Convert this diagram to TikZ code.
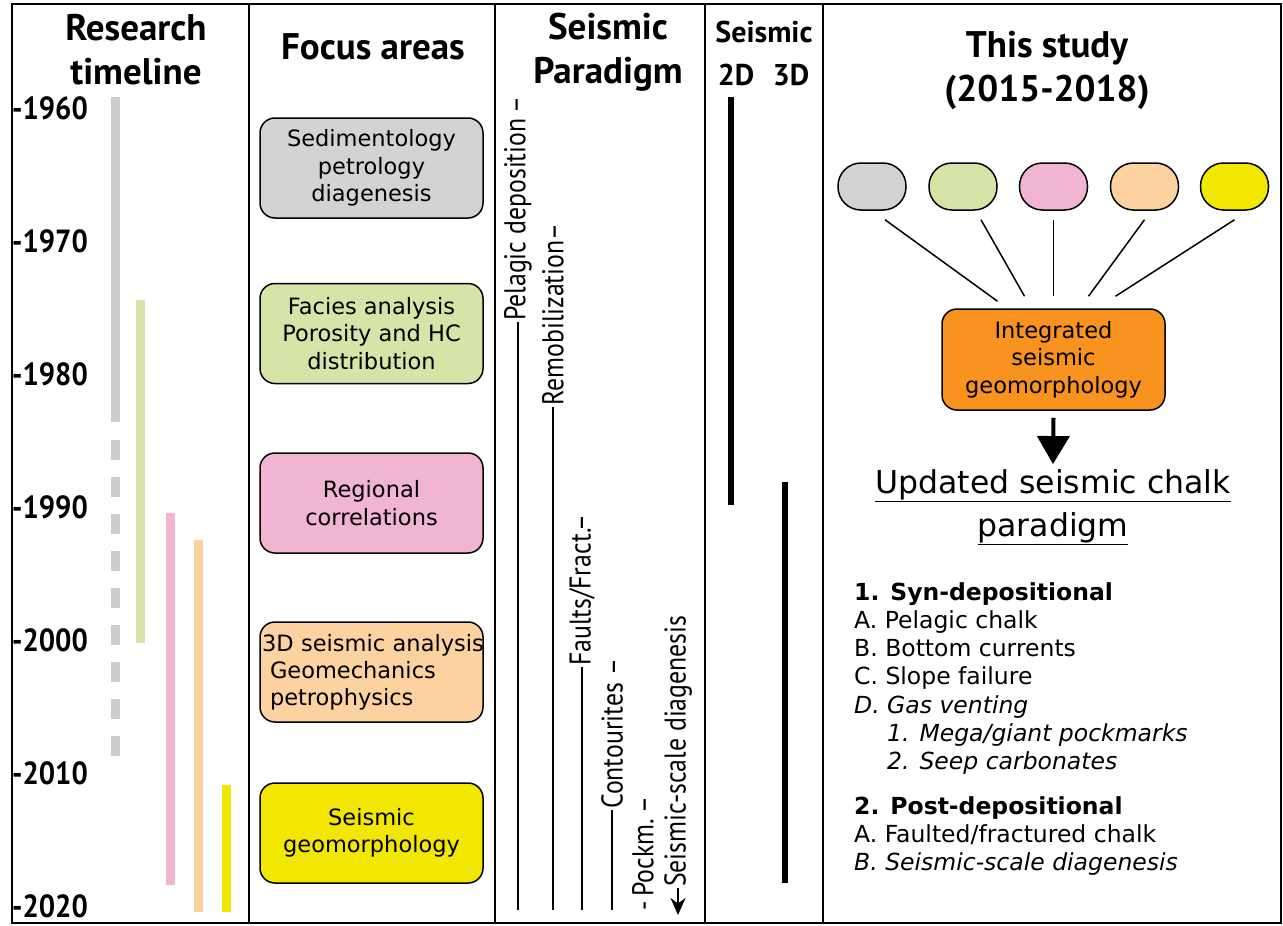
\documentclass[tikz,border=0pt]{standalone}
\usepackage{fontspec}
\setmainfont{DejaVu Sans}
\newfontfamily\headfont{PT Sans}
\newfontfamily\condfont[FakeStretch=0.86]{PT Sans}
\newfontfamily\yearfont[FakeStretch=0.9]{PT Sans}
\usepackage{tikz}
\usetikzlibrary{arrows.meta}

\definecolor{tlgray}{HTML}{CDCDD1}
\definecolor{chalkgray}{HTML}{D3D3D5}
\definecolor{chalkgreen}{HTML}{D6E4A8}
\definecolor{chalkpink}{HTML}{F2B4D3}
\definecolor{chalkorange}{HTML}{FCD3A0}
\definecolor{chalkyellow}{HTML}{F2E700}
\definecolor{intorange}{HTML}{F7931E}

\tikzset{
    header/.style={font=\headfont\bfseries\fontsize{37}{44}\selectfont, align=center, inner sep=0pt},
    smallheader/.style={font=\headfont\bfseries\fontsize{30}{30}\selectfont, inner sep=0pt},
    yearlabel/.style={font=\yearfont\bfseries\fontsize{32}{32}\selectfont, anchor=west, inner sep=0pt},
    focusbox/.style={draw, line width=1.5pt, rounded corners=15pt, minimum width=223pt,
        minimum height=100pt, align=center, font=\fontsize{22.5}{27.5}\selectfont},
    studypill/.style={draw, line width=1.5pt, rounded corners=23pt, minimum width=68pt, minimum height=47pt},
    paratext/.style={font=\condfont\fontsize{30}{30}\selectfont, rotate=90, anchor=west, inner sep=1pt},
    paraline/.style={line width=1.3pt},
    tlbar/.style={line width=9pt},
    seisbar/.style={line width=6pt},
}

\begin{document}
\begin{tikzpicture}[x=1pt, y=-1pt]
    \useasboundingbox (0,0) rectangle (1283,926);

    % frame and columns
    \draw[line width=2.5pt] (12,4) rectangle (1281,923);
    \foreach \cx in {249,495,705,823}
        \draw[line width=1.5pt] (\cx,4) -- (\cx,923);

    % headers
    \node[header] (hdtime) at (136,50) {Research\\timeline};
    \node[header] (hdfocus) at (373,47) {Focus areas};
    \node[header] (hdpara) at (608,52) {Seismic\\Paradigm};
    \node[smallheader] (hdseis) at (764,32) {Seismic};
    \node[smallheader] (hdtwod) at (736,75) {2D};
    \node[smallheader] (hdthreed) at (791,75) {3D};
    \node[header] (hdstudy) at (1047,70) {This study\\(2015-2018)};

    % research timeline
    \foreach \yr [count=\i from 0] in {1960,1970,...,2020}
        \node[yearlabel] (yr\yr) at (12,{108+133*\i}) {-\yr};
    \draw[tlbar, tlgray] (115,97) -- (115,422);
    \draw[tlbar, tlgray, dash pattern=on 20pt off 17pt] (115,440) -- (115,768);
    \draw[tlbar, chalkgreen] (140,300) -- (140,643);
    \draw[tlbar, chalkpink] (170,513) -- (170,885);
    \draw[tlbar, chalkorange] (198,540) -- (198,912);
    \draw[tlbar, chalkyellow] (226,785) -- (226,912);

    % focus areas
    \node[focusbox, fill=chalkgray] (focus1) at (371.5,168) {Sedimentology\\petrology\\diagenesis};
    \node[focusbox, fill=chalkgreen] (focus2) at (371.5,333.5) {Facies analysis\\Porosity and HC\\distribution};
    \node[focusbox, fill=chalkpink] (focus3) at (371.5,503) {Regional\\correlations};
    \node[focusbox, fill=chalkorange, align=left, text width=219pt, inner sep=2pt, font=\fontsize{22.5}{27}\selectfont]
        (focus4) at (371.5,672) {\mbox{3D seismic analysis}\\\hspace*{8pt}Geomechanics\\\hspace*{8pt}petrophysics};
    \node[focusbox, fill=chalkyellow] (focus5) at (371.5,833) {Seismic\\geomorphology};

    % seismic paradigm
    \node[paratext] (pelagic) at (518,322) {Pelagic deposition\,–};
    \node[paratext] (remob) at (553,407) {Remobilization–};
    \node[paratext] (faults) at (582,667) {Faults/Fract.–};
    \node[paratext] (contour) at (612,810) {Contourites –};
    \node[paratext] (pockm) at (643,912) {-\,Pockm.\,–};
    \node[paratext] (diag) at (678,888) {Seismic-scale diagenesis};
    \coordinate (pelagicbase) at (518,910);
    \coordinate (remobbase) at (553,910);
    \coordinate (faultsbase) at (582,910);
    \coordinate (contourbase) at (612,910);
    \coordinate (diagtip) at (678,915);
    \draw[paraline] (pelagicbase) -- (pelagic);
    \draw[paraline] (remobbase) -- (remob);
    \draw[paraline] (faultsbase) -- (faults);
    \draw[paraline] (contourbase) -- (contour);
    \draw[line width=2pt, -{Stealth[length=17pt, width=15pt]}] (diag) -- (diagtip);

    % 2D / 3D seismic
    \draw[seisbar] (731,97) -- (731,505);
    \draw[seisbar] (785,482) -- (785,883);

    % this study
    \foreach \c/\x [count=\i] in {chalkgray/872, chalkgreen/963, chalkpink/1053.5, chalkorange/1144.5, chalkyellow/1234.5}
        \node[studypill, fill=\c] (pill\i) at (\x,186.5) {};
    \node[focusbox, fill=intorange, minimum height=101pt] (intg) at (1053.5,359.5) {Integrated\\seismic\\geomorphology};
    \draw[line width=1.5pt] ([shift={(13,9)}]pill1.south) -- ([shift={(-56,-7)}]intg.north);
    \draw[line width=1.5pt] ([shift={(18,9)}]pill2.south) -- ([shift={(-29,-12)}]intg.north);
    \draw[line width=1.5pt] ([shift={(0,9)}]pill3.south) -- ([shift={(0,-12)}]intg.north);
    \draw[line width=1.5pt] ([shift={(0,9)}]pill4.south) -- ([shift={(35,-12)}]intg.north);
    \draw[line width=1.5pt] ([shift={(0,9)}]pill5.south) -- ([shift={(62,-12)}]intg.north);

    \node[align=center, inner sep=0pt, font=\fontsize{31.5}{43}\selectfont] (upd) at (1053,507)
        {\underline{Updated seismic chalk}\\\underline{paradigm}};
    \draw[line width=4pt, -{Triangle[length=28pt, width=32pt]}] ([shift={(0,7)}]intg.south) -- ([shift={(0,-5)}]upd.north);

    \node[anchor=north west, align=left, inner sep=0pt, font=\fontsize{23.5}{28.3}\selectfont] (scheme) at (854,582) {%
        \textbf{1. Syn-depositional}\\
        A. Pelagic chalk\\
        B. Bottom currents\\
        C. Slope failure\\
        \textit{D. Gas venting}\\
        \hspace*{33pt}\textit{1. Mega/giant pockmarks}\\
        \hspace*{33pt}\textit{2. Seep carbonates}\\[16pt]
        \textbf{2. Post-depositional}\\
        A. Faulted/fractured chalk\\
        \textit{B. Seismic-scale diagenesis}};
\end{tikzpicture}
\end{document}
